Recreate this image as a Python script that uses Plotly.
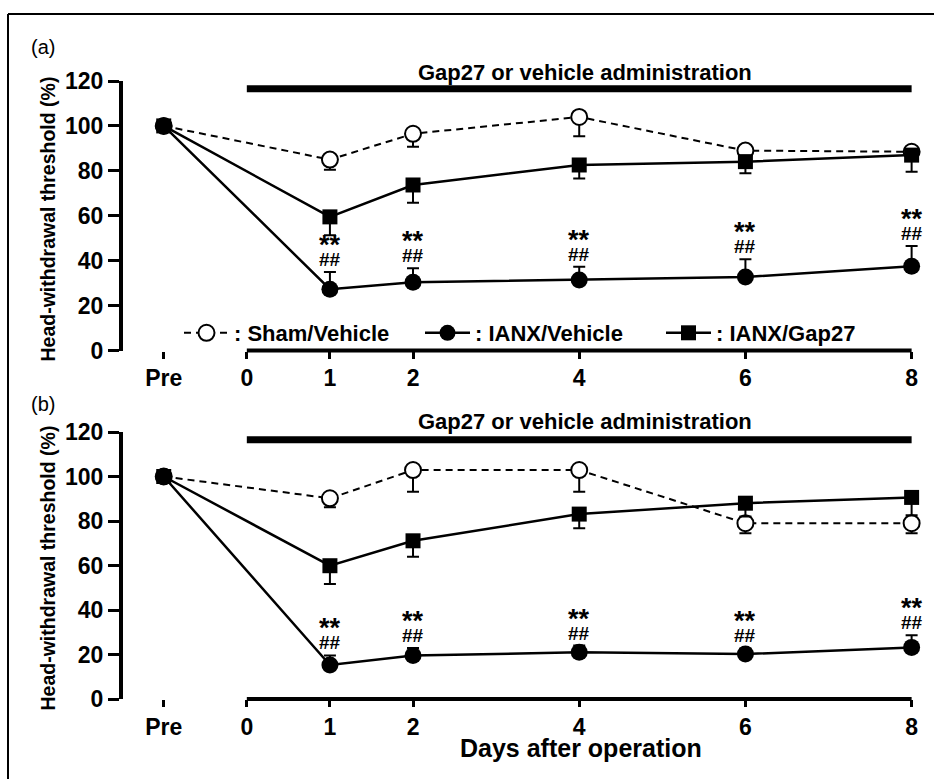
import plotly.graph_objects as go

# ---------------- data ----------------
days = [-1, 1, 2, 4, 6, 8]
tick_vals = [-1, 0, 1, 2, 4, 6, 8]
tick_text = ["Pre", "0", "1", "2", "4", "6", "8"]
sig_days = [1, 2, 4, 6, 8]

names = [": Sham/Vehicle", ": IANX/Vehicle", ": IANX/Gap27"]

# panel (a)
sham_a = [100, 85, 96.5, 104, 89, 88.5]
sham_a_err = [0, 4.5, 5.8, 8.6, 3, 3]
ianx_a = [100, 27.3, 30.4, 31.4, 32.7, 37.5]
ianx_a_err = [0, 7.6, 6.2, 5.9, 7.9, 9]
gap_a = [100, 59.5, 73.7, 82.6, 84.1, 87]
gap_a_err = [0, 8.2, 7.9, 6, 5.2, 7.4]

# panel (b)
sham_b = [100, 90.2, 102.9, 102.9, 79, 79]
sham_b_err = [0, 4, 9.7, 9.7, 4.5, 4.5]
ianx_b = [100, 15.3, 19.5, 21, 20.2, 23.2]
ianx_b_err = [0, 4.3, 3.4, 3, 2.5, 5.5]
gap_b = [100, 59.9, 71.1, 83.1, 88, 90.6]
gap_b_err = [0, 8.2, 7.2, 6.4, 6, 8]

FONT = "Liberation Sans, Arial, sans-serif"
W, H = 934, 779


def fx(px):
    return px / W


def fy(py):
    return 1 - py / H


fig = go.Figure()


def add_panel(xa, ya, sham, sham_e, ianx, ianx_e, gap, gap_e, legend):
    zeros = [0] * len(days)
    fig.add_trace(go.Scatter(
        x=days, y=sham, xaxis=xa, yaxis=ya, name=names[0], showlegend=legend,
        mode="lines+markers", cliponaxis=False,
        line=dict(color="black", width=2, dash="7px,5px"),
        marker=dict(symbol="circle", size=16, color="white",
                    line=dict(color="black", width=2)),
        error_y=dict(type="data", symmetric=False, array=zeros, arrayminus=sham_e,
                     color="black", thickness=2, width=6),
    ))
    fig.add_trace(go.Scatter(
        x=days, y=gap, xaxis=xa, yaxis=ya, name=names[2], showlegend=False,
        mode="lines+markers", cliponaxis=False,
        line=dict(color="black", width=2.5),
        marker=dict(symbol="square", size=15, color="black"),
        error_y=dict(type="data", symmetric=False, array=zeros, arrayminus=gap_e,
                     color="black", thickness=2, width=6),
    ))
    fig.add_trace(go.Scatter(
        x=days, y=ianx, xaxis=xa, yaxis=ya, name=names[1], showlegend=legend,
        mode="lines+markers", cliponaxis=False,
        line=dict(color="black", width=2.5),
        marker=dict(symbol="circle", size=17, color="black"),
        error_y=dict(type="data", symmetric=False, array=ianx_e, arrayminus=zeros,
                     color="black", thickness=2, width=6),
    ))
    if legend:
        # legend-only entry for the Gap27 series in the right order
        fig.add_trace(go.Scatter(
            x=[None], y=[None], xaxis=xa, yaxis=ya, name=names[2], showlegend=True,
            mode="lines+markers",
            line=dict(color="black", width=2.5),
            marker=dict(symbol="square", size=15, color="black"),
        ))
    # significance marks
    for d in sig_days:
        i = days.index(d)
        top = ianx[i] + ianx_e[i]
        fig.add_annotation(x=d, y=top, xref=xa, yref=ya, text="##", showarrow=False,
                           yshift=12.5, yanchor="middle", xanchor="center",
                           font=dict(family=FONT, size=19, color="black", weight="bold"))
        fig.add_annotation(x=d, y=top, xref=xa, yref=ya, text="**", showarrow=False,
                           yshift=27, yanchor="middle", xanchor="center",
                           font=dict(family=FONT, size=27, color="black", weight="bold"))


add_panel("x", "y", sham_a, sham_a_err, ianx_a, ianx_a_err, gap_a, gap_a_err, True)
add_panel("x2", "y2", sham_b, sham_b_err, ianx_b, ianx_b_err, gap_b, gap_b_err, False)

x_dom = [fx(123), fx(123 + 9.61 * 83.1)]
xr = [-1.49, 8.12]
ya_dom = [fy(350.5), fy(81)]
yb_dom = [fy(699), fy(432)]

tickfont = dict(family=FONT, size=23, color="black", weight="bold")
xcommon = dict(range=xr, domain=x_dom, tickmode="array", tickvals=tick_vals,
               ticktext=tick_text, ticks="outside", ticklen=7, tickwidth=3,
               tickcolor="black", showline=False, showgrid=False, zeroline=False,
               tickfont=tickfont, automargin=False, fixedrange=True)
ycommon = dict(range=[0, 120], tickvals=[0, 20, 40, 60, 80, 100, 120],
               ticks="outside", ticklen=11, tickwidth=3, tickcolor="black",
               showline=True, linewidth=4, linecolor="black", showgrid=False,
               zeroline=False, tickfont=tickfont, automargin=False, fixedrange=True)

fig.update_layout(
    width=W, height=H,
    margin=dict(l=0, r=0, t=0, b=0),
    paper_bgcolor="white", plot_bgcolor="white",
    xaxis=dict(anchor="y", **xcommon),
    yaxis=dict(anchor="x", domain=ya_dom, **ycommon),
    xaxis2=dict(anchor="y2", **xcommon),
    yaxis2=dict(anchor="x2", domain=yb_dom, **ycommon),
    showlegend=True,
    legend=dict(orientation="h", x=fx(179), y=fy(333), xanchor="left", yanchor="middle",
                bgcolor="rgba(0,0,0,0)", borderwidth=0,
                font=dict(family=FONT, size=22, color="black", weight="bold"),
                itemwidth=45,
                entrywidthmode="pixels", entrywidth=181, itemclick=False,
                traceorder="normal"),
)

shapes = []
for xa, ya, dom in (("x", "y", ya_dom), ("x2", "y2", yb_dom)):
    # broken x-axis line from day 0 to day 8
    shapes.append(dict(type="line", xref=xa, yref="paper", x0=0, x1=8,
                       y0=dom[0], y1=dom[0], line=dict(color="black", width=4)))
    # administration bar
    shapes.append(dict(type="line", xref=xa, yref=ya, x0=0, x1=8, y0=116.5, y1=116.5,
                       line=dict(color="black", width=7)))
# outer frame (top and left edges visible)
shapes.append(dict(type="line", xref="paper", yref="paper", x0=fx(8), x1=1.01,
                   y0=fy(14), y1=fy(14), line=dict(color="black", width=2)))
shapes.append(dict(type="line", xref="paper", yref="paper", x0=fx(8), x1=fx(8),
                   y0=fy(14), y1=-0.01, line=dict(color="black", width=2)))
fig.update_layout(shapes=shapes)

ann = []
for lbl, py in (("(a)", 47), ("(b)", 404)):
    ann.append(dict(x=fx(43), y=fy(py), xref="paper", yref="paper", text=lbl,
                    showarrow=False, xanchor="center", yanchor="middle",
                    font=dict(family=FONT, size=20, color="black")))
for py in (219.5, 568.5):
    ann.append(dict(x=fx(47), y=fy(py), xref="paper", yref="paper",
                    text="Head-withdrawal threshold (%)", textangle=-90, showarrow=False,
                    xanchor="center", yanchor="middle",
                    font=dict(family=FONT, size=19.5, color="black", weight="bold")))
for xa, py in (("x", 72), ("x2", 421)):
    ann.append(dict(x=4.07, y=fy(py), xref=xa, yref="paper",
                    text="Gap27 or vehicle administration", showarrow=False,
                    xanchor="center", yanchor="middle",
                    font=dict(family=FONT, size=22, color="black", weight="bold")))
ann.append(dict(x=fx(581), y=fy(748), xref="paper", yref="paper",
                text="Days after operation", showarrow=False,
                xanchor="center", yanchor="middle",
                font=dict(family=FONT, size=25, color="black", weight="bold")))
for a in ann:
    fig.add_annotation(**a)

fig.write_html("out.html")
